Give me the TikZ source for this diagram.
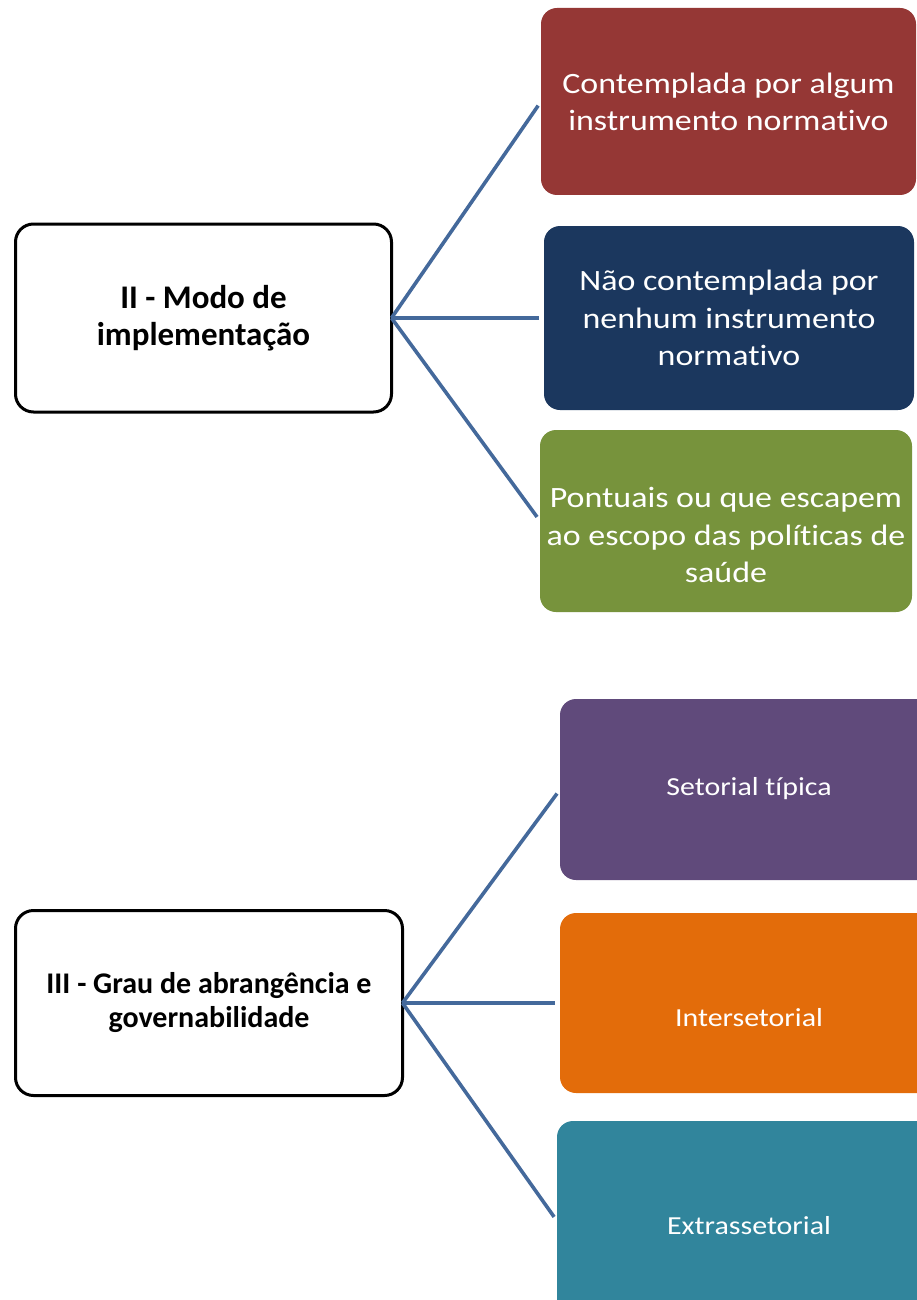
\documentclass[tikz,border=0pt]{standalone}
\usepackage{fontspec}
\setmainfont{Carlito}[Ligatures=NoCommon]
\newfontfamily\widefont{Carlito}[FakeStretch=1.15,Ligatures=NoCommon]
\definecolor{cred}{HTML}{953735}
\definecolor{cblue}{HTML}{1B375E}
\definecolor{cgreen}{HTML}{77933C}
\definecolor{cpurple}{HTML}{604A7B}
\definecolor{corange}{HTML}{E36C0A}
\definecolor{cteal}{HTML}{31859C}
\definecolor{cline}{HTML}{44699B}
\begin{document}
\begin{tikzpicture}[x=1pt,y=-1pt,
  mainbox/.style={draw=black,line width=3pt,fill=white,rounded corners=18pt,inner sep=0pt,outer sep=0pt},
  leafbox/.style={rounded corners=16pt,inner sep=0pt,outer sep=0pt},
  bigtxt/.style={text=white,align=center,font=\widefont\fontsize{29.5}{37.5}\selectfont},
  smalltxt/.style={text=white,align=center,font=\widefont\fontsize{26}{30}\selectfont},
  maintxt/.style={align=center},
  conn/.style={draw=cline,line width=3.6pt,shorten >=5pt}]
\useasboundingbox (0,0) rectangle (916,1300);
% top group
\node[mainbox,minimum width=376pt,minimum height=188pt] (A) at (203.5,318) {};
\node[maintxt,font=\bfseries\fontsize{33}{37}\selectfont] (At) at (203.5,318) {II - Modo de\\implementação};
\node[leafbox,fill=cred,minimum width=375pt,minimum height=187pt] (R) at (728.5,101.5) {};
\node[bigtxt] (Rt) at (728.5,102) {Contemplada por algum\\instrumento normativo};
\node[leafbox,fill=cblue,minimum width=370pt,minimum height=184pt] (B) at (729,318) {};
\node[bigtxt] (Bt) at (729,318) {Não contemplada por\\nenhum instrumento\\normativo};
\node[leafbox,fill=cgreen,minimum width=372pt,minimum height=182pt] (G) at (726,521) {};
\node[bigtxt] (Gt) at (726,535) {Pontuais ou que escapem\\ao escopo das políticas de\\saúde};
\draw[conn] (A.east) -- (R.west);
\draw[conn] (A.east) -- (B.west);
\draw[conn] (A.east) -- (G.west);
% bottom group
\node[mainbox,minimum width=387pt,minimum height=185pt] (C) at (209,1003) {};
\node[maintxt,font=\bfseries\fontsize{30}{34}\selectfont] (Ct) at (209,1003) {III - Grau de abrangência e\\governabilidade};
\node[leafbox,fill=cpurple,minimum width=380pt,minimum height=181pt] (P) at (750,789.5) {};
\node[smalltxt] (Pt) at (749,789) {Setorial típica};
\node[leafbox,fill=corange,minimum width=380pt,minimum height=180pt] (O) at (750,1003) {};
\node[smalltxt] (Ot) at (749,1018) {Intersetorial};
\node[leafbox,fill=cteal,minimum width=383pt,minimum height=200pt] (T) at (748.5,1221) {};
\node[smalltxt] (Tt) at (749,1226) {Extrassetorial};
\draw[conn] (C.east) -- (P.west);
\draw[conn] (C.east) -- (O.west);
\draw[conn] (C.east) -- (T.west);
\end{tikzpicture}
\end{document}
